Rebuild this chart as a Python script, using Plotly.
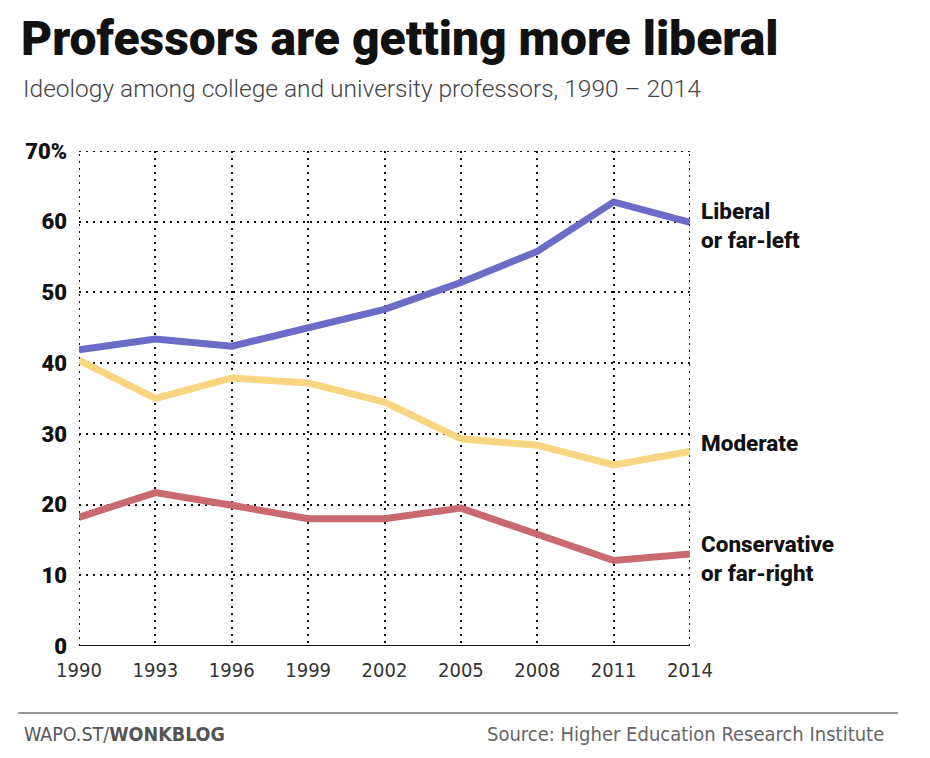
import plotly.graph_objects as go

years = [1990, 1993, 1996, 1999, 2002, 2005, 2008, 2011, 2014]
liberal = [41.9, 43.4, 42.4, 44.9, 47.6, 51.4, 55.8, 62.8, 59.9]
moderate = [40.4, 35.0, 37.9, 37.2, 34.5, 29.3, 28.4, 25.6, 27.5]
conservative = [18.2, 21.7, 19.9, 18.0, 18.0, 19.5, 15.8, 12.1, 13.0]

series = [
    ("Liberal<br>or far-left", liberal, "#6a6cc6"),
    ("Moderate", moderate, "#f8d581"),
    ("Conservative<br>or far-right", conservative, "#c86a70"),
]
label_y = [59.4, 28.7, 12.4]

y_ticks = [0, 10, 20, 30, 40, 50, 60, 70]
y_ticktext = ["0", "10", "20", "30", "40", "50", "60", "70%"]

# page body has an 8px margin; compensate
L, R, T, B = 71, 248, 143, 120
PW, PH = 930 - L - R, 758 - T - B

def px(xs):  # screen x -> paper
    return (xs - 8 - L) / PW

def py(ys):  # screen y -> paper
    return 1 - (ys - 8 - T) / PH

GRID_DASH = "2px,5px"

fig = go.Figure()

# edge gridlines that plotly omits at the range limits
for xv in (years[0], years[-1]):
    fig.add_shape(type="line", xref="x", yref="y", x0=xv, x1=xv, y0=y_ticks[0], y1=y_ticks[-1],
                  line=dict(color="#111", width=2, dash=GRID_DASH), layer="below")
fig.add_shape(type="line", xref="x", yref="y", x0=years[0], x1=years[-1], y0=y_ticks[-1], y1=y_ticks[-1],
              line=dict(color="#111", width=2, dash=GRID_DASH), layer="below")

for (name, vals, col) in series:
    fig.add_trace(go.Scatter(x=years, y=vals, mode="lines", name=name.replace("<br>", " "),
                             line=dict(color=col, width=7), hoverinfo="skip", cliponaxis=False))

for (name, vals, col), ly in zip(series, label_y):
    fig.add_annotation(x=years[-1], y=ly, xref="x", yref="y", text=name, showarrow=False,
                       xanchor="left", yanchor="middle", align="left", xshift=9,
                       font=dict(family="Roboto, Liberation Sans, sans-serif", size=22.5,
                                 color="#111", weight=800))

fig.update_layout(
    width=930, height=758,
    margin=dict(l=L, r=R, t=T, b=B),
    paper_bgcolor="white", plot_bgcolor="white",
    showlegend=False,
)
fig.update_xaxes(range=[1990, 2014], tickvals=years, ticktext=[str(y) for y in years],
                 showgrid=True, gridcolor="#111", griddash=GRID_DASH, gridwidth=2,
                 zeroline=False, showline=False, ticks="", ticklabelstandoff=10,
                 tickfont=dict(family="Liberation Sans Narrow, DejaVu Sans Condensed, sans-serif",
                               size=20, color="#333"))
fig.update_yaxes(range=[0, 70], tickvals=y_ticks, ticktext=y_ticktext,
                 showgrid=True, gridcolor="#111", griddash=GRID_DASH, gridwidth=2,
                 zeroline=False, showline=False, ticks="", ticklabelstandoff=11,
                 tickfont=dict(family="Roboto, Liberation Sans, sans-serif", size=22,
                               color="#111", weight=900))
# solid baseline
fig.add_shape(type="line", xref="x", yref="y", x0=1990, x1=2014, y0=0, y1=0,
              line=dict(color="#111", width=2))

fig.add_annotation(xref="paper", yref="paper", x=px(19), y=py(38), xanchor="left", yanchor="middle",
                   text="Professors are getting more liberal", showarrow=False,
                   font=dict(family="Roboto, Liberation Sans, sans-serif", size=48, color="#111", weight=900))
fig.add_annotation(xref="paper", yref="paper", x=px(21), y=py(88), xanchor="left", yanchor="middle",
                   text="Ideology among college and university professors, 1990 – 2014", showarrow=False,
                   font=dict(family="Roboto, Liberation Sans, sans-serif", size=24.5, color="#444", weight=300))
# footer rule
fig.add_shape(type="line", xref="paper", yref="paper", x0=px(18), x1=px(898),
              y0=py(713), y1=py(713), line=dict(color="#777", width=1.5))
fig.add_annotation(xref="paper", yref="paper", x=px(22), y=py(734), xanchor="left", yanchor="middle",
                   text="WAPO.ST/<b>WONKBLOG</b>", showarrow=False,
                   font=dict(family="Liberation Sans Narrow, DejaVu Sans Condensed, sans-serif", size=19.5, color="#555"))
fig.add_annotation(xref="paper", yref="paper", x=px(886), y=py(734), xanchor="right", yanchor="middle",
                   text="Source: Higher Education Research Institute", showarrow=False,
                   font=dict(family="Liberation Sans Narrow, DejaVu Sans Condensed, sans-serif", size=20, color="#666"))

fig.write_html("out.html")
